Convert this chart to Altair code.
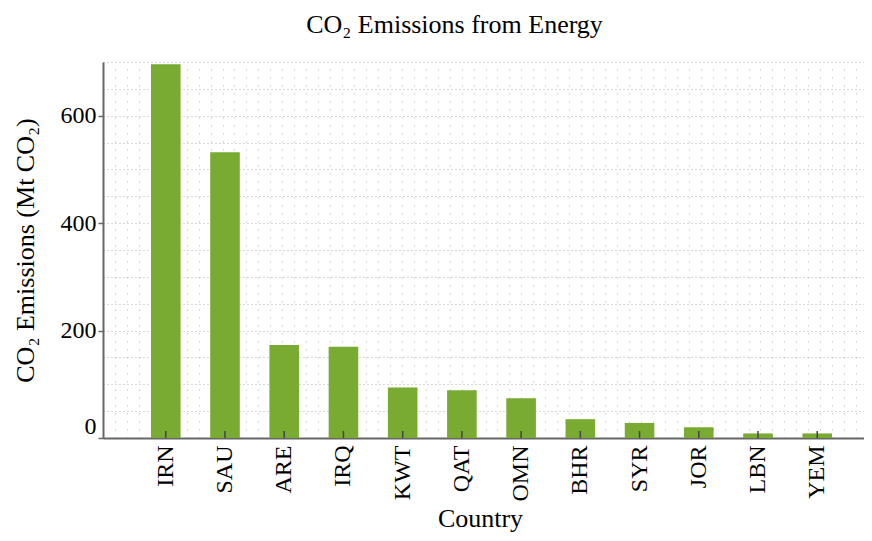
import altair as alt
import pandas as pd

countries = ["IRN", "SAU", "ARE", "IRQ", "KWT", "QAT", "OMN", "BHR", "SYR", "JOR", "LBN", "YEM"]
emissions = [696, 532, 173, 170, 94, 89, 74, 35, 28, 20, 8.5, 8.5]
y_ticks = [0, 200, 400, 600]

df = pd.DataFrame({"country": countries, "emissions": emissions})

FONT = "Liberation Serif"
W, H = 777, 376
BAR = "#79AB32"
AXIS = "#666666"
GRID = "#b0b0b0"

xband = alt.X(
    "country:N",
    sort=countries,
    scale=alt.Scale(paddingInner=0.5, paddingOuter=0.81),
    axis=alt.Axis(
        orient="bottom",
        title="Country",
        titleFont=FONT, titleFontSize=26, titleFontWeight="normal", titleColor="black",
        titlePadding=4, titleX=377, titleAlign="center",
        labelFont=FONT, labelFontSize=24, labelColor="black", labelAngle=270,
        labelAlign="right", labelBaseline="middle", labelPadding=7,
        ticks=False, grid=False,
        domainColor=AXIS, domainWidth=2,
    ),
)

tick_test = "indexof(" + str(y_ticks) + ", datum.value) >= 0"

yq = alt.Y(
    "emissions:Q",
    scale=alt.Scale(domain=[0, 700], nice=False),
    axis=alt.Axis(
        title="CO₂ Emissions (Mt CO₂)",
        titleFont=FONT, titleFontSize=26, titleFontWeight="normal", titleColor="black",
        titlePadding=22,
        labelFont=FONT, labelFontSize=24, labelColor="black", labelPadding=2,
        labelFlush=True,
        labelExpr=tick_test + " ? datum.label : ''",
        tickCount=14,
        tickSize=5, tickColor=AXIS, tickWidth=1.5,
        tickOpacity={"condition": {"test": tick_test, "value": 1}, "value": 0},
        grid=True, gridColor=GRID, gridDash=[1, 3], gridWidth=1,
        domainColor=AXIS, domainWidth=2,
    ),
)

base = alt.Chart(df)

vgrid = base.transform_calculate(gx="0").mark_point(opacity=0).encode(
    x=alt.X(
        "gx:Q",
        scale=alt.Scale(domain=[0, 65], nice=False),
        axis=alt.Axis(
            orient="bottom", grid=True, labels=False, ticks=False, domain=False,
            title=None, tickCount=65, gridColor=GRID, gridDash=[1, 7], gridWidth=1,
        ),
    ),
)

bars = base.mark_bar(color=BAR).encode(x=xband, y=yq)

inticks = base.mark_rule(color="#444444", strokeWidth=1.5).encode(
    x=alt.X("country:N", sort=countries),
    y=alt.value(H),
    y2=alt.value(H - 7),
)

chart = (
    alt.layer(vgrid, alt.layer(bars, inticks))
    .resolve_scale(x="independent")
    .resolve_axis(x="independent")
    .properties(
        width=W,
        height=H,
        autosize=alt.AutoSizeParams(type="none"),
        padding={"left": 95, "top": 54, "right": -16, "bottom": 95},
        title=alt.TitleParams(
            text="CO₂ Emissions from Energy",
            font=FONT, fontSize=26, fontWeight="normal", color="black",
            anchor="middle", frame="group", dx=-37, offset=3, baseline="alphabetic",
        ),
    )
    .configure_view(stroke=None)
)

chart.save("out.html", embed_options={"renderer": "svg", "actions": False})
